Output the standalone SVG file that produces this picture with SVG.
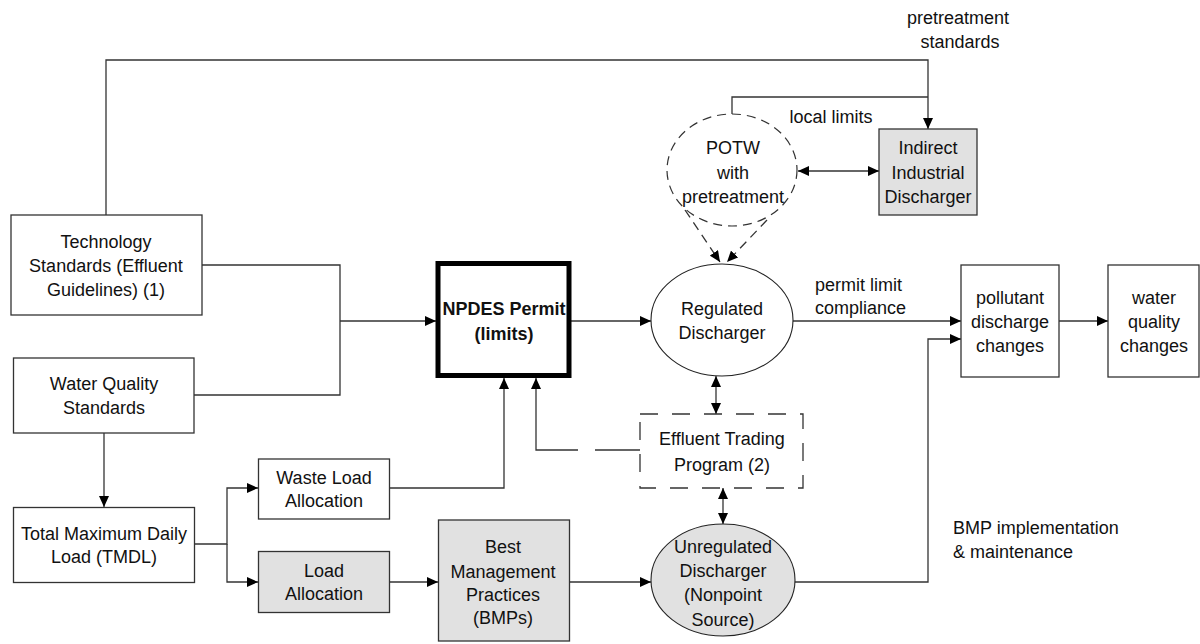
<svg xmlns="http://www.w3.org/2000/svg" width="1200" height="644" viewBox="0 0 1200 644">
<defs>
<marker id="ah" markerUnits="userSpaceOnUse" markerWidth="11" markerHeight="10" refX="11" refY="5" orient="auto-start-reverse" viewBox="0 0 11 10">
<path d="M0,0 L11,5 L0,10 z" fill="#000" stroke="none"/>
</marker>
<style>
.box{fill:#fff;stroke:#333;stroke-width:1.3}
.gray{fill:#e1e1e1}
.ln{fill:none;stroke:#333;stroke-width:1.3}
.dash{stroke-dasharray:9,6}
.t{font-family:"Liberation Sans",Arial,Helvetica,sans-serif;font-size:18px;fill:#111;text-anchor:middle}
.l{text-anchor:start}
.b{font-weight:bold}
</style>
</defs>
<rect width="1200" height="644" fill="#fff"/>

<g id="connectors">
<path class="ln" d="M106,215 V60 H928 V129" marker-end="url(#ah)"/>
<path class="ln" d="M928,97 H732 V114"/>
<path class="ln" d="M798,171 H879" marker-start="url(#ah)" marker-end="url(#ah)"/>
<path class="ln dash" d="M685,210 L720,262" marker-end="url(#ah)"/>
<path class="ln dash" d="M767,220 L727,262" marker-end="url(#ah)"/>
<path class="ln" d="M202,265 H340 V395 H194"/>
<path class="ln" d="M340,321 H436" marker-end="url(#ah)"/>
<path class="ln" d="M571,321 H651" marker-end="url(#ah)"/>
<path class="ln" d="M793,321 H961" marker-end="url(#ah)"/>
<path class="ln" d="M1059,321 H1108" marker-end="url(#ah)"/>
<path class="ln" d="M795,582 H928 V339 H961" marker-end="url(#ah)"/>
<path class="ln" d="M104,433 V507" marker-end="url(#ah)"/>
<path class="ln" d="M194,544 H227 V488 H258" marker-end="url(#ah)"/>
<path class="ln" d="M227,544 V582 H258" marker-end="url(#ah)"/>
<path class="ln" d="M389,488 H504 V378" marker-end="url(#ah)"/>
<path class="ln" d="M389,582 H438" marker-end="url(#ah)"/>
<path class="ln" d="M569,582 H651" marker-end="url(#ah)"/>
<path class="ln" d="M640,450 H536 V378" stroke-dasharray="45,17,200" marker-end="url(#ah)"/>
<path class="ln" d="M716,376 V414" marker-start="url(#ah)" marker-end="url(#ah)"/>
<path class="ln" d="M723,488 V524" marker-start="url(#ah)" marker-end="url(#ah)"/>
</g>

<g id="tech">
<rect class="box" x="11" y="215" width="191" height="100"/>
<text class="t" x="106" y="248">Technology</text>
<text class="t" x="106" y="272">Standards (Effluent</text>
<text class="t" x="106" y="296">Guidelines) (1)</text>
</g>

<g id="wqs">
<rect class="box" x="13.5" y="358" width="180.5" height="75"/>
<text class="t" x="104" y="390">Water Quality</text>
<text class="t" x="104" y="414">Standards</text>
</g>

<g id="tmdl">
<rect class="box" x="13.5" y="507.5" width="181" height="75"/>
<text class="t" x="104" y="540">Total Maximum Daily</text>
<text class="t" x="104" y="563">Load (TMDL)</text>
</g>

<g id="wla">
<rect class="box" x="258.5" y="459" width="131" height="60"/>
<text class="t" x="324" y="484">Waste Load</text>
<text class="t" x="324" y="507">Allocation</text>
</g>

<g id="la">
<rect class="box gray" x="258.5" y="551.5" width="131" height="61"/>
<text class="t" x="324" y="577">Load</text>
<text class="t" x="324" y="600">Allocation</text>
</g>

<g id="bmp">
<rect class="box gray" x="438.5" y="520" width="131" height="121"/>
<text class="t" x="503" y="553">Best</text>
<text class="t" x="503" y="578">Management</text>
<text class="t" x="503" y="601">Practices</text>
<text class="t" x="503" y="624">(BMPs)</text>
</g>

<g id="npdes">
<rect x="438" y="263.5" width="131" height="112" fill="#fff" stroke="#000" stroke-width="5"/>
<text class="t b" x="504" y="314.5">NPDES Permit</text>
<text class="t b" x="504" y="339.5">(limits)</text>
</g>

<g id="potw">
<ellipse cx="732" cy="170" rx="65" ry="56" fill="#fff" stroke="#333" stroke-width="1.2" stroke-dasharray="9,6"/>
<text class="t" x="733" y="154">POTW</text>
<text class="t" x="733" y="179">with</text>
<text class="t" x="733" y="203">pretreatment</text>
</g>

<g id="indirect">
<rect class="box gray" x="879" y="129" width="98" height="86"/>
<text class="t" x="928" y="154">Indirect</text>
<text class="t" x="928" y="179">Industrial</text>
<text class="t" x="928" y="203">Discharger</text>
</g>

<g id="regulated">
<ellipse cx="722" cy="320" rx="71" ry="56" fill="#fff" stroke="#222" stroke-width="1.1"/>
<text class="t" x="722" y="315">Regulated</text>
<text class="t" x="722" y="339">Discharger</text>
</g>

<g id="trading">
<rect x="640" y="414" width="163" height="74" fill="#fff" stroke="#333" stroke-width="1.3" stroke-dasharray="18,14"/>
<text class="t" x="722" y="445">Effluent Trading</text>
<text class="t" x="722" y="471">Program (2)</text>
</g>

<g id="unregulated">
<ellipse cx="723" cy="580" rx="72" ry="56" fill="#e1e1e1" stroke="#222" stroke-width="1.1"/>
<text class="t" x="723" y="553">Unregulated</text>
<text class="t" x="723" y="577">Discharger</text>
<text class="t" x="723" y="601">(Nonpoint</text>
<text class="t" x="723" y="626">Source)</text>
</g>

<g id="pollutant">
<rect class="box" x="961" y="265" width="98" height="112"/>
<text class="t" x="1010" y="304">pollutant</text>
<text class="t" x="1010" y="328">discharge</text>
<text class="t" x="1010" y="352">changes</text>
</g>

<g id="water">
<rect class="box" x="1108" y="265" width="91" height="112"/>
<text class="t" x="1154" y="304">water</text>
<text class="t" x="1154" y="328">quality</text>
<text class="t" x="1154" y="352">changes</text>
</g>

<g id="labels">
<text class="t" x="958" y="24">pretreatment</text>
<text class="t" x="960" y="48">standards</text>
<text class="t" x="831" y="123">local limits</text>
<text class="t l" x="815" y="291">permit limit</text>
<text class="t l" x="815" y="314">compliance</text>
<text class="t l" x="953" y="534">BMP implementation</text>
<text class="t l" x="953" y="558">&amp; maintenance</text>
</g>
</svg>
